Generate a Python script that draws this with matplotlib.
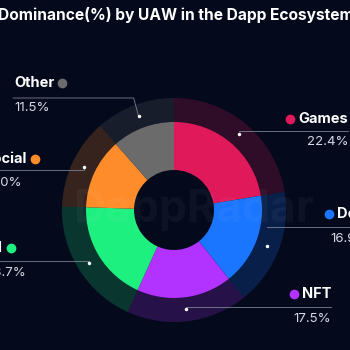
import matplotlib.pyplot as plt
import numpy as np

categories = ['Games', 'DeFi', 'NFT', 'AI', 'Social', 'Other']
shares = [22.4, 16.9, 17.5, 18.7, 13.0, 11.5]
colors = ['#e0195a', '#1a75ff', '#b233ff', '#1ef080', '#ff8c2a', '#6b6b6b']
title = 'Dominance(%) by UAW in the Dapp Ecosystem'

bg = '#040a1c'
plt.rcParams['font.family'] = ['Inter', 'DejaVu Sans']

fig = plt.figure(figsize=(3.5, 3.5), dpi=100, facecolor=bg)
ax = fig.add_axes([0, 0, 1, 1])
ax.set_facecolor(bg)

cx, cy = 174, 140
# outer ring: dim version of each colour
ax.pie(shares, radius=112, center=(cx, cy), colors=colors, startangle=90,
       counterclock=False, wedgeprops=dict(width=24, alpha=0.2, linewidth=0))
ax.pie(shares, radius=88, center=(cx, cy), colors=colors, startangle=90,
       counterclock=False, wedgeprops=dict(width=48, linewidth=0))
ax.set_xlim(0, 350)
ax.set_ylim(0, 350)
ax.set_aspect('auto')
ax.axis('off')

# watermark
ax.text(cx + 20, cy, 'DappRadar', color='white', alpha=0.04, fontsize=32,
        fontweight='bold', ha='center', va='center')

# label layout: (side, anchor x, name y, line y, value y) in pixel coords from top
layout = {
    'Other':  ('left', 14, 83, 98, 108),
    'Social': ('left', -17, 159, 170, 183),
    'AI':     ('left', -12, 248, 261, 273),
    'Games':  ('right', 348, 119, 131, 142),
    'DeFi':   ('right', 369, 214, 227, 239),
    'NFT':    ('right', 331, 294, 307, 319),
}

fig.canvas.draw()
cum = np.cumsum([0] + shares[:-1])
for name, val, col, start in zip(categories, shares, colors, cum):
    mid = np.deg2rad(90 - (start + val / 2) * 3.6)
    dx, dy = cx + 100 * np.cos(mid), cy + 100 * np.sin(mid)
    side, ax_x, ny, ly, vy = layout[name]
    ny, ly, vy = 350 - ny, 350 - ly, 350 - vy
    ha = 'left' if side == 'left' else 'right'
    t = ax.text(ax_x, ny, name, color='white', fontsize=10.5, fontweight='bold',
                ha=ha, va='center')
    ax.text(ax_x, vy, f'{val:.1f}%', color='#d5d9e4', fontsize=9.5,
            ha=ha, va='center')
    bb = t.get_window_extent(renderer=fig.canvas.get_renderer())
    bb = bb.transformed(ax.transData.inverted())
    if side == 'left':
        ax.plot(bb.x1 + 8, ny, 'o', color=col, ms=7, mec='none')
        corner = dx - 5 if abs(ly - dy) > 3 else dx
        ax.plot([ax_x - 1, corner, dx], [ly, ly, dy], color='#7a8090', lw=0.6)
    else:
        ax.plot(bb.x0 - 8, ny, 'o', color=col, ms=7, mec='none')
        ax.plot([dx, ax_x], [ly, ly], color='#7a8090', lw=0.6)
    ax.plot(dx, dy, 'o', color='white', ms=2.5, mec='none')

ax.text(-2, 350 - 15, title, color='white', fontsize=11.2, fontweight='bold',
        ha='left', va='center')

ax.set_xlim(0, 350)
ax.set_ylim(0, 350)
fig.savefig('out.png', dpi=100, facecolor=bg)
